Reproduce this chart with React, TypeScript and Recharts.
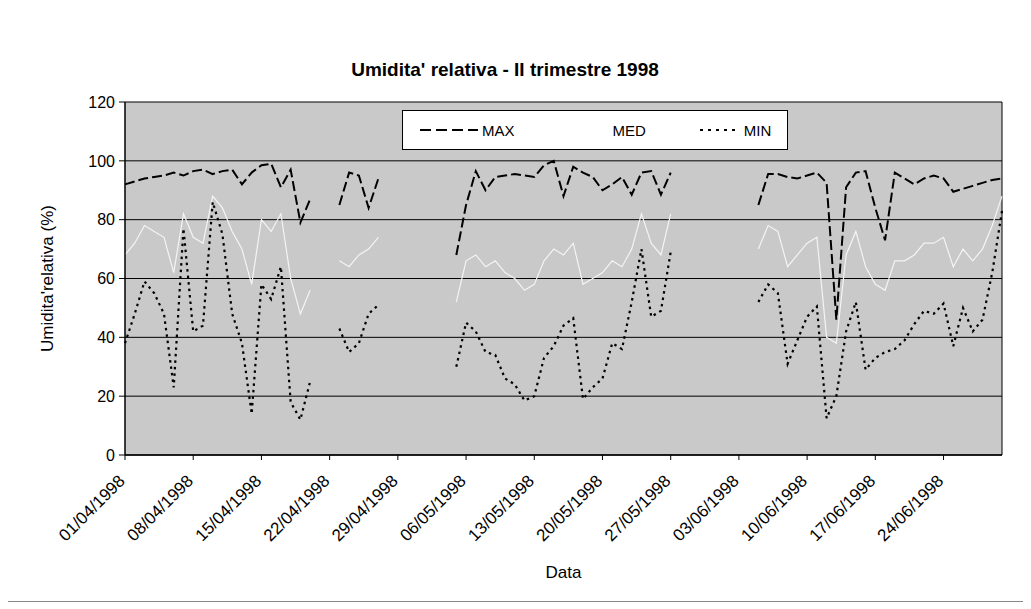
import { LineChart, Line, XAxis, YAxis, CartesianGrid, ReferenceLine, Legend } from 'recharts';

// Umidita' relativa giornaliera, 01/04/1998 - 30/06/1998 (null = dato mancante)
const MAX_VALUES: (number | null)[] = [
  92, 93, 94, 94.5, 95, 96, 95, 96.5, 97, 95.5, 96.5, 97, 92, 96, 98.5, 99, 91, 97, 79, 87,
  null, null,
  85, 96, 95, 84, 94,
  null, null, null, null, null, null, null,
  68, 85, 96.5, 90, 94.5, 95, 95.5, 95, 94.5, 98.5, 100, 88, 98, 96, 94.5, 90, 92, 94.5, 88.5, 96, 96.5, 88.5, 96,
  null, null, null, null, null, null, null, null,
  85, 95.5, 95.5, 94.5, 94, 95, 96, 92.5, 46, 91, 96, 96.5, 84, 73, 96, 94, 92, 94, 95, 94, 89.5, 90.5, 91.5, 92.5, 93.5, 94,
];

const MED_VALUES: (number | null)[] = [
  68, 72, 78, 76, 74, 62, 82, 74, 72, 88, 84, 76, 70, 58, 80, 76, 82, 60, 48, 56,
  null, null,
  66, 64, 68, 70, 74,
  null, null, null, null, null, null, null,
  52, 66, 68, 64, 66, 62, 60, 56, 58, 66, 70, 68, 72, 58, 60, 62, 66, 64, 70, 82, 72, 68, 82,
  null, null, null, null, null, null, null, null,
  70, 78, 76, 64, 68, 72, 74, 40, 38, 68, 76, 64, 58, 56, 66, 66, 68, 72, 72, 74, 64, 70, 66, 70, 78, 88,
];

const MIN_VALUES: (number | null)[] = [
  38, 48, 59, 55, 48, 23, 77, 42, 44, 86, 75, 48, 38, 14, 58, 53, 64, 18, 12, 25,
  null, null,
  43, 35, 38, 48, 51,
  null, null, null, null, null, null, null,
  30, 45, 42, 35, 34, 26, 24, 18.5, 20, 33, 37, 44, 46.5, 19, 23, 26, 38, 36, 52, 70, 47, 49, 69,
  null, null, null, null, null, null, null, null,
  52, 58, 55, 31, 39, 47, 50.5, 12.5, 20, 42, 52, 29, 33, 35, 36, 39, 44.5, 49, 48, 51.5, 37, 50, 42, 46, 62, 83,
];

const MONTHS = [
  { month: '04', days: 30 },
  { month: '05', days: 31 },
  { month: '06', days: 30 },
];

const Y_TICKS = [0, 20, 40, 60, 80, 100, 120];

const dates: string[] = [];
MONTHS.forEach(({ month, days }) => {
  for (let d = 1; d <= days; d++) {
    dates.push(`${String(d).padStart(2, '0')}/${month}/1998`);
  }
});

const data = dates.map((date, i) => ({
  date,
  max: MAX_VALUES[i],
  med: MED_VALUES[i],
  min: MIN_VALUES[i],
}));

const FONT = '"Liberation Sans", Arial, sans-serif';

function DateTick({ x, y, payload }: any) {
  return (
    <text
      x={0}
      y={0}
      transform={`translate(${x + 1},${y + 20}) rotate(-45)`}
      textAnchor="end"
      fontSize={17}
      fontFamily={FONT}
      fill="#000"
    >
      {payload.value}
    </text>
  );
}

function LegendBox() {
  const item = (label: string, sample: JSX.Element) => (
    <div style={{ display: 'flex', alignItems: 'center' }}>
      <svg width={58} height={10} style={{ marginRight: 4 }}>{sample}</svg>
      <span>{label}</span>
    </div>
  );
  return (
    <div
      style={{
        width: 386,
        height: 40,
        boxSizing: 'border-box',
        border: '1px solid #000',
        background: '#fff',
        display: 'flex',
        alignItems: 'center',
        paddingLeft: 17,
        gap: 36,
        fontFamily: FONT,
        fontSize: 15,
        color: '#000',
      }}
    >
      {item('MAX', <line x1={0} y1={5} x2={58} y2={5} stroke="#000" strokeWidth={2} strokeDasharray="11 5" />)}
      {item('MED', <line x1={0} y1={5} x2={58} y2={5} stroke="#fff" strokeWidth={2} />)}
      {item('MIN', <line x1={18} y1={5} x2={58} y2={5} stroke="#000" strokeWidth={2} strokeDasharray="3 5" />)}
    </div>
  );
}

export default function App() {
  return (
    <div
      style={{
        position: 'relative',
        width: 1015,
        height: 593,
        background: '#fff',
        borderRight: '1px solid #888',
        borderBottom: '1px solid #888',
      }}
    >
      <div
        style={{
          position: 'absolute',
          top: 51,
          left: 0,
          width: 994,
          textAlign: 'center',
          fontFamily: FONT,
          fontWeight: 'bold',
          fontSize: 19,
          lineHeight: '22px',
          color: '#000',
        }}
      >
        Umidita' relativa - II trimestre 1998
      </div>
      <LineChart
        width={1015}
        height={593}
        data={data}
        margin={{ top: 94, right: 21, left: 20, bottom: 16 }}
      >
        <CartesianGrid vertical={false} stroke="#000" strokeWidth={1} fill="#c9c9c9" fillOpacity={1} />
        <XAxis
          dataKey="date"
          interval={6}
          height={130}
          tick={<DateTick />}
          tickSize={5}
          tickLine={{ stroke: '#000' }}
          axisLine={{ stroke: '#000', strokeWidth: 1.5 }}
          label={{ value: 'Data', position: 'insideBottom', offset: 7, fontSize: 17, fontFamily: FONT, fill: '#000' }}
        />
        <YAxis
          domain={[0, 120]}
          ticks={Y_TICKS}
          interval={0}
          width={97}
          tickSize={6}
          tickMargin={4}
          tick={{ fontSize: 16, fontFamily: FONT, fill: '#000' }}
          tickLine={{ stroke: '#000' }}
          axisLine={{ stroke: '#000', strokeWidth: 1.5 }}
          label={{
            value: "Umidita'relativa (%)",
            angle: -90,
            position: 'insideLeft',
            offset: 19,
            fontSize: 17,
            fontFamily: FONT,
            fill: '#000',
            style: { textAnchor: 'middle' },
          }}
        />
        <ReferenceLine x={dates[dates.length - 1]} stroke="#000" strokeWidth={1} />
        <Legend
          layout="horizontal"
          verticalAlign="middle"
          align="center"
          content={<LegendBox />}
          wrapperStyle={{ top: 102, left: 394, width: 386, height: 40 }}
        />
        <Line
          type="linear"
          dataKey="med"
          stroke="#f4f4f4"
          strokeWidth={1.2}
          dot={false}
          activeDot={false}
          isAnimationActive={false}
        />
        <Line
          type="linear"
          dataKey="min"
          stroke="#000"
          strokeWidth={2.2}
          strokeDasharray="2.5 4"
          dot={false}
          activeDot={false}
          isAnimationActive={false}
        />
        <Line
          type="linear"
          dataKey="max"
          stroke="#000"
          strokeWidth={2}
          strokeDasharray="10 4"
          dot={false}
          activeDot={false}
          isAnimationActive={false}
        />
      </LineChart>
    </div>
  );
}
